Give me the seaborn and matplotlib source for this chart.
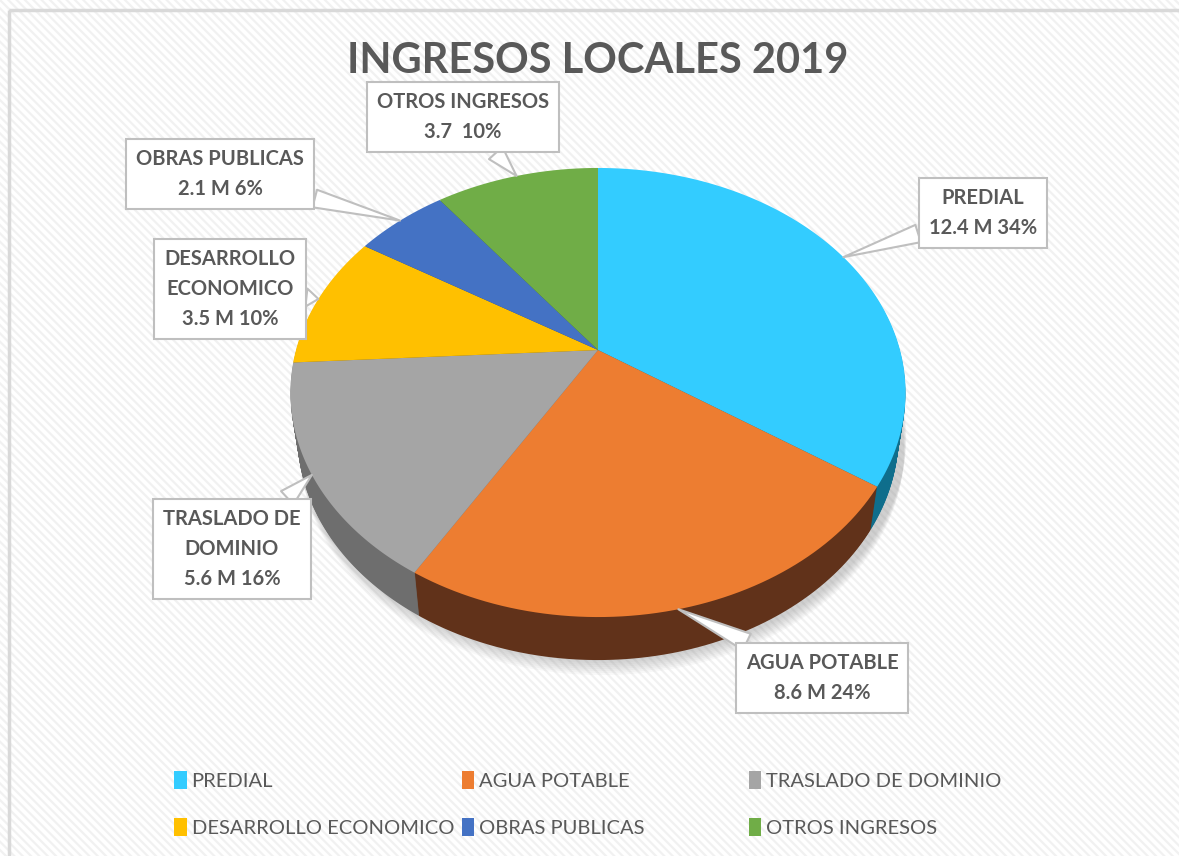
import numpy as np
import matplotlib
matplotlib.use("Agg")
import matplotlib.pyplot as plt
import matplotlib.transforms as mtransforms
from matplotlib.path import Path
from matplotlib.patches import Rectangle, Patch
from matplotlib import font_manager
import seaborn as sns

# ---------------- data ----------------
categories = ["PREDIAL", "AGUA POTABLE", "TRASLADO DE DOMINIO",
              "DESARROLLO ECONOMICO", "OBRAS PUBLICAS", "OTROS INGRESOS"]
values = [12.4, 8.6, 5.6, 3.5, 2.1, 3.7]
label_texts = ["PREDIAL\n12.4 M 34%", "AGUA POTABLE\n8.6 M 24%",
               "TRASLADO DE\nDOMINIO\n5.6 M 16%", "DESARROLLO\nECONOMICO\n3.5 M 10%",
               "OBRAS PUBLICAS\n2.1 M 6%", "OTROS INGRESOS\n3.7  10%"]
colors = ["#33CCFF", "#ED7D31", "#A5A5A5", "#FFC000", "#4472C4", "#70AD47"]
side_colors = ["#0F6E8C", "#61321A", "#6E6E6E", "#8A6A00", "#25427A", "#3F6427"]
title = "INGRESOS LOCALES 2019"

# ---------------- style ----------------
sns.set_theme(style="white")
avail = {f.name for f in font_manager.fontManager.ttflist}
def pick(*names):
    for n in names:
        if n in avail:
            return n
    return "DejaVu Sans"
BOLD_FONT = pick("Lato", "Open Sans", "DejaVu Sans")
LEG_FONT = pick("Liberation Sans Narrow", "Lato", "DejaVu Sans")
plt.rcParams["font.family"] = [BOLD_FONT, "DejaVu Sans"]
plt.rcParams["hatch.linewidth"] = 1.6
TXT = "#595959"

W, H = 1179, 856
fig = plt.figure(figsize=(W / 100, H / 100), dpi=100)
ax = fig.add_axes([0, 0, 1, 1])

# perspective projection of a tilted disc (pixel coordinates)
CX, CY, A, B, K = 598.0, 350.0, 302.0, 216.5, 0.1893
DEPTH = 43.0
SHRINK = 7.0   # lower rim appears slightly narrower (perspective)


class Persp(mtransforms.Transform):
    input_dims = output_dims = 2
    is_separable = False
    has_inverse = False

    def __init__(self, dx=0.0, dy=0.0, shrink=0.0):
        super().__init__()
        self.dx, self.dy, self.shrink = dx, dy, shrink

    def transform_non_affine(self, values):
        values = np.asarray(values, float)
        u, v = values[:, 0], values[:, 1]
        w = 1 + K * v
        return np.column_stack([CX + (A - self.shrink) * u / w + self.dx,
                                CY - B * v / w + self.dy])

    def transform_path_non_affine(self, path):
        big = mtransforms.Affine2D().scale(2000).transform_path(path)
        polys = big.to_polygons(closed_only=True)
        paths = [Path(self.transform_non_affine(np.asarray(p) / 2000.0), closed=True)
                 for p in polys]
        return Path.make_compound_path(*paths)


def draw_pie(cols, dx=0.0, dy=0.0, shrink=0.0, alpha=1.0, zorder=1):
    wedges, _ = ax.pie(values, colors=cols, startangle=90, counterclock=False,
                       radius=1, center=(0, 0),
                       wedgeprops=dict(linewidth=0, alpha=alpha))
    tr = Persp(dx, dy, shrink) + ax.transData
    for wdg in wedges:
        wdg.set_transform(tr)
        wdg.set_zorder(zorder)
    return wedges


# background with faint diagonal stripes
ax.add_patch(Rectangle((0, 0), W, H, facecolor="white", edgecolor="#f1f1f1",
                       hatch="\\\\\\\\", linewidth=0, zorder=0))
ax.add_patch(Rectangle((9, 10), W + 50, H + 50, fill=False, edgecolor="#d9d9d9",
                       linewidth=2.5, zorder=0.5, clip_on=False))

# soft shadow
for d in np.linspace(58, 44, 8):
    draw_pie(["#808080"] * len(values), dx=4, dy=d, shrink=SHRINK * d / DEPTH - 4,
             alpha=0.05, zorder=1)
# side (depth)
for d in np.arange(DEPTH, 0, -1.0):
    draw_pie(side_colors, dy=d, shrink=SHRINK * d / DEPTH, zorder=2)
# top
top = draw_pie(colors, zorder=3)

# labels with callouts
label_pos = [(983, 213), (822, 678), (232, 549), (230, 289), (220, 174), (463, 117)]
fr = np.array(values) / np.sum(values)
ends = 90 - 360 * np.cumsum(fr)
starts = ends + 360 * fr
mids = np.deg2rad((starts + ends) / 2)
tips = Persp().transform_non_affine(np.column_stack([np.cos(mids), np.sin(mids)]))
for txt, (lx, ly), (tx, ty) in zip(label_texts, label_pos, tips):
    ax.annotate(txt, xy=(tx, ty), xytext=(lx, ly), ha="center", va="center",
                fontsize=14.5, fontweight="bold", color=TXT, linespacing=1.65,
                fontfamily=[BOLD_FONT, "DejaVu Sans"], zorder=6,
                bbox=dict(boxstyle="square,pad=0.5", fc="white", ec="#bfbfbf", lw=1.5),
                arrowprops=dict(arrowstyle="wedge,tail_width=0.9", fc="white",
                                ec="#bfbfbf", lw=1.5, shrinkA=0, shrinkB=0))

ax.text(598, 61, title, ha="center", va="center", fontsize=30, fontweight="bold",
        color=TXT, zorder=6)

ax.set_xlim(0, W)
ax.set_ylim(H, 0)
ax.set_aspect("auto")
ax.axis("off")

# legend: three columns at fixed positions
col_x = [0.148, 0.392, 0.635]
for c in range(3):
    idx = [c, c + 3]
    handles = [Patch(facecolor=colors[i], edgecolor="none") for i in idx]
    leg = fig.legend(handles, [categories[i] for i in idx], loc="upper left",
                     bbox_to_anchor=(col_x[c], 0.0995), frameon=False,
                     handlelength=0.6, handleheight=1.0, handletextpad=0.25,
                     labelspacing=1.4, borderaxespad=0, borderpad=0,
                     prop=dict(family=[LEG_FONT, "DejaVu Sans"], size=14.5))
    for t in leg.get_texts():
        t.set_color(TXT)

fig.savefig("out.png", dpi=100)
